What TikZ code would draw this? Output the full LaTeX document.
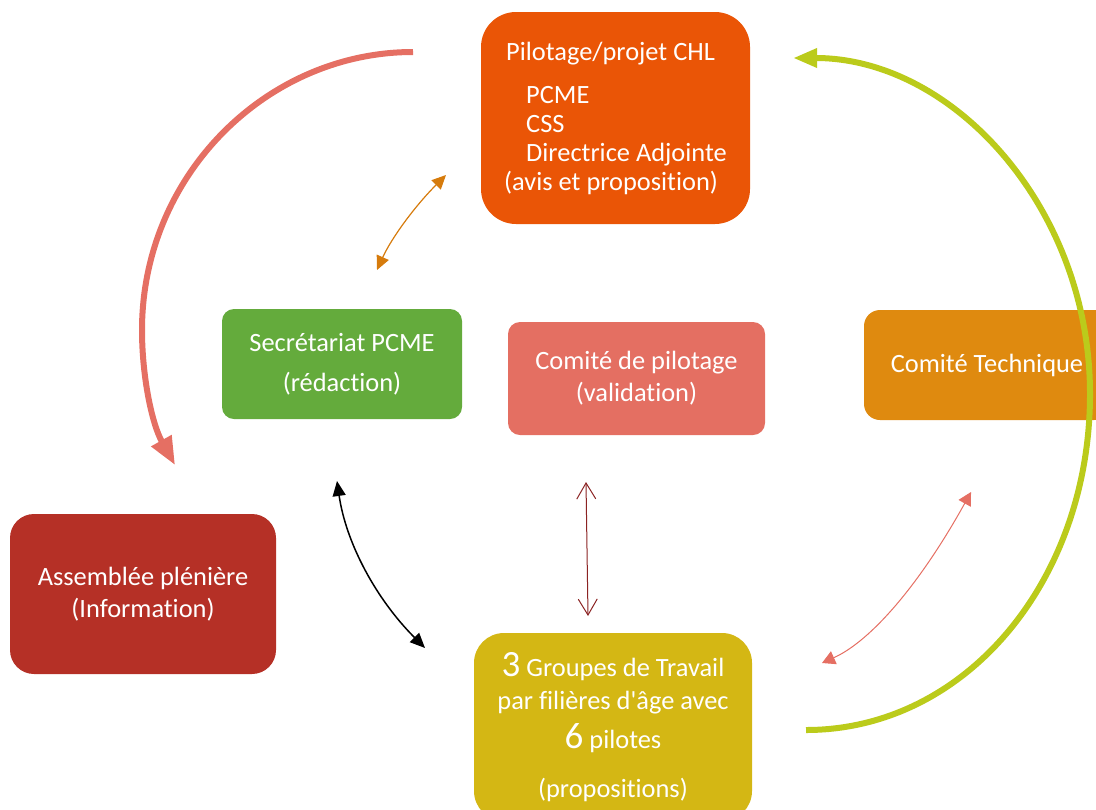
\documentclass[tikz,border=0pt]{standalone}
\usepackage{fontspec}
\setmainfont{Carlito}[Ligatures=NoCommon]
\usetikzlibrary{arrows.meta}
\definecolor{pilotorange}{HTML}{EA5506}
\definecolor{secgreen}{HTML}{64AB3C}
\definecolor{copilred}{HTML}{E46F62}
\definecolor{techorange}{HTML}{DF8A0F}
\definecolor{assemred}{HTML}{B53026}
\definecolor{groupyellow}{HTML}{D4B714}
\definecolor{bigred}{HTML}{E56F63}
\definecolor{biggreen}{HTML}{BBCB1B}
\definecolor{thinorange}{HTML}{D67B0C}
\definecolor{darkred}{HTML}{8B2323}

\begin{document}
\begin{tikzpicture}[x=0.5pt,y=-0.5pt,
  box/.style={rounded corners=#1, text=white, inner sep=0pt, align=center,
    font=\fontsize{13.2}{14.5}\selectfont}]
\useasboundingbox (0,0) rectangle (1096,809);
% boxes
\node[box=17.5pt, fill=pilotorange, minimum width=134.5pt, minimum height=106pt, align=left]
  (pilot) at (615.5,118) {\hspace*{1pt}Pilotage/projet CHL\\[7pt]
  \hspace*{11pt}PCME\\ \hspace*{11pt}CSS\\ \hspace*{11pt}Directrice Adjointe\\(avis et proposition)};
\node[box=6pt, fill=secgreen, minimum width=120pt, minimum height=55pt]
  (secr) at (342,364) {Secrétariat PCME\\[5.5pt](rédaction)};
\node[box=6pt, fill=copilred, minimum width=128.5pt, minimum height=56.5pt]
  (copil) at (636.5,378.5) {Comité de pilotage\\[1.5pt](validation)};
\node[box=8pt, fill=techorange, minimum width=123pt, minimum height=55pt]
  (tech) at (987,365) {Comité Technique};
\node[box=12pt, fill=assemred, minimum width=133pt, minimum height=80pt]
  (assem) at (143,594) {Assemblée plénière\\[1.5pt](Information)};
\node[box=15pt, fill=groupyellow, minimum width=139pt, minimum height=94pt]
  (groups) at (613,727) {{\fontsize{18.5}{14.5}\selectfont 3} Groupes de Travail\\[2pt]
  par filières d\textquotesingle âge avec\\[4pt]{\fontsize{18.5}{14.5}\selectfont 6} pilotes\\[10pt](propositions)};
% arrow ends
\coordinate (a1) at (377,270); \coordinate (a2) at (446,175);
\coordinate (b1) at (337,481); \coordinate (b2) at (425,648);
\coordinate (c1) at (586,482); \coordinate (c2) at (588,616);
\coordinate (d1) at (971,492); \coordinate (d2) at (822,663);
\coordinate (redstart) at (413,52);  \coordinate (redend) at (175,465);
\coordinate (greenstart) at (806,730); \coordinate (greenend) at (793,58);
% big arcs
\draw[bigred, line width=3pt, -{Triangle[length=14pt,width=11pt]}]
  (redstart) .. controls (266,52) and (142,176) .. (142,330)
  .. controls (142,377) and (152,424) .. (redend);
\draw[biggreen, line width=3pt, -{Triangle[length=12pt,width=9pt]}]
  (greenstart) .. controls (966,730) and (1090,580) .. (1090,394)
  .. controls (1090,208) and (953,58) .. (greenend);
% small arrows
\draw[thinorange, line width=0.6pt, {Triangle[length=7pt,width=6.5pt]}-{Triangle[length=7pt,width=6.5pt]}]
  (a1) .. controls (391,239) and (414,207) .. (a2);
\draw[black, line width=0.75pt, {Triangle[length=7.5pt,width=6.5pt]}-{Triangle[length=7.5pt,width=6.5pt]}]
  (b1) .. controls (346,543) and (376,599) .. (b2);
\draw[darkred, line width=0.5pt, {Straight Barb[length=8pt,width=9.5pt]}-{Straight Barb[length=8pt,width=9.5pt]}]
  (c1) -- (c2);
\draw[bigred, line width=0.5pt, {Triangle[length=6.5pt,width=7pt]}-{Triangle[length=6.5pt,width=7pt]}]
  (d1) .. controls (920,584) and (871,641) .. (d2);
\end{tikzpicture}
\end{document}
